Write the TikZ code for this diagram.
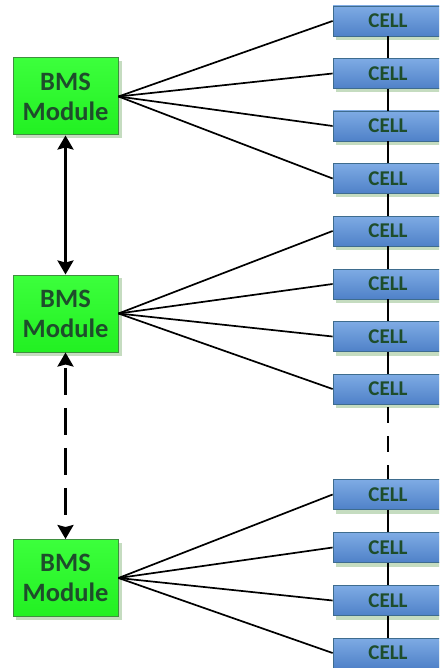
\documentclass[tikz,border=0pt]{standalone}
\usepackage{fontspec}
\setmainfont{Carlito}
\usetikzlibrary{arrows.meta}
\definecolor{txtgreen}{HTML}{1E4D2B}
\definecolor{modfill}{HTML}{22F022}
\definecolor{modtop}{HTML}{3CFF3C}
\definecolor{modedge}{HTML}{3F8F3F}
\definecolor{celltop}{HTML}{7EABE4}
\definecolor{cellbot}{HTML}{4F81C8}
\definecolor{celledge}{HTML}{3E6C8E}
\definecolor{shade}{HTML}{C5DCC0}
\tikzset{
  module/.style={draw=modedge, line width=1pt, top color=modtop, bottom color=modfill,
    minimum width=105pt, minimum height=77pt, inner sep=0pt, align=center,
    font=\fontsize{26.5}{30}\selectfont\bfseries, text=txtgreen},
  modshadow/.style={fill=shade, draw=none},
  cell/.style={draw=celledge, line width=0.8pt, top color=celltop, bottom color=cellbot,
    minimum width=110pt, minimum height=30pt, inner sep=0pt,
    font=\fontsize{21}{24}\selectfont\bfseries, text=txtgreen},
  wire/.style={line width=1.7pt, black},
  chain/.style={line width=1.9pt, black},
  link/.style={line width=2.6pt, black, {Stealth[length=14pt,width=16pt,inset=2pt]}-{Stealth[length=14pt,width=16pt,inset=2pt]}}
}
\begin{document}
\begin{tikzpicture}[x=1pt, y=-1pt]
  \useasboundingbox (0,0) rectangle (439,668);
  \clip (0,0) rectangle (439,668);
  \fill[white] (0,0) rectangle (439,668);

  % soft shadows behind the boxes
  \foreach \my in {96.5,313.5,578} {
    \fill[modshadow] (16,\my-35.5) rectangle (122,\my+42);
  }
  \foreach \cy in {21,73.5,126,178.5,231,284,336.5,389,494.5,547.5,600.5,653} {
    \fill[modshadow] (336,\cy-12) rectangle (446,\cy+19);
  }

  % BMS modules
  \node[module] (m1) at (65.5,96.5) {BMS\\Module};
  \node[module] (m2) at (65.5,313.5) {BMS\\Module};
  \node[module] (m3) at (65.5,578) {BMS\\Module};

  % cells
  \node[cell] (c1) at (388,21) {CELL};
  \node[cell] (c2) at (388,73.5) {CELL};
  \node[cell] (c3) at (388,126) {CELL};
  \node[cell] (c4) at (388,178.5) {CELL};
  \node[cell] (c5) at (388,231) {CELL};
  \node[cell] (c6) at (388,284) {CELL};
  \node[cell] (c7) at (388,336.5) {CELL};
  \node[cell] (c8) at (388,389) {CELL};
  \node[cell] (c9) at (388,494.5) {CELL};
  \node[cell] (c10) at (388,547.5) {CELL};
  \node[cell] (c11) at (388,600.5) {CELL};
  \node[cell] (c12) at (388,653) {CELL};

  % cell chain
  \foreach \a/\b in {c1/c2,c2/c3,c3/c4,c4/c5,c5/c6,c6/c7,c7/c8,c9/c10,c10/c11,c11/c12}
    \draw[chain] (\a.south) -- (\b.north);
  \draw[chain, dash pattern=on 16pt off 13pt, dash phase=-3pt] (c8.south) -- (c9.north);

  % sense wires from each module to its cells
  \foreach \c in {c1,c2,c3,c4} \draw[wire] (m1.east) -- (\c.west);
  \foreach \c in {c5,c6,c7,c8} \draw[wire] (m2.east) -- (\c.west);
  \foreach \c in {c9,c10,c11,c12} \draw[wire] (m3.east) -- (\c.west);

  % module communication links
  \draw[link] (m1.south) -- (m2.north);
  \draw[link, dash pattern=on 27pt off 13pt, dash phase=-4pt] (m2.south) -- (m3.north);
\end{tikzpicture}
\end{document}
